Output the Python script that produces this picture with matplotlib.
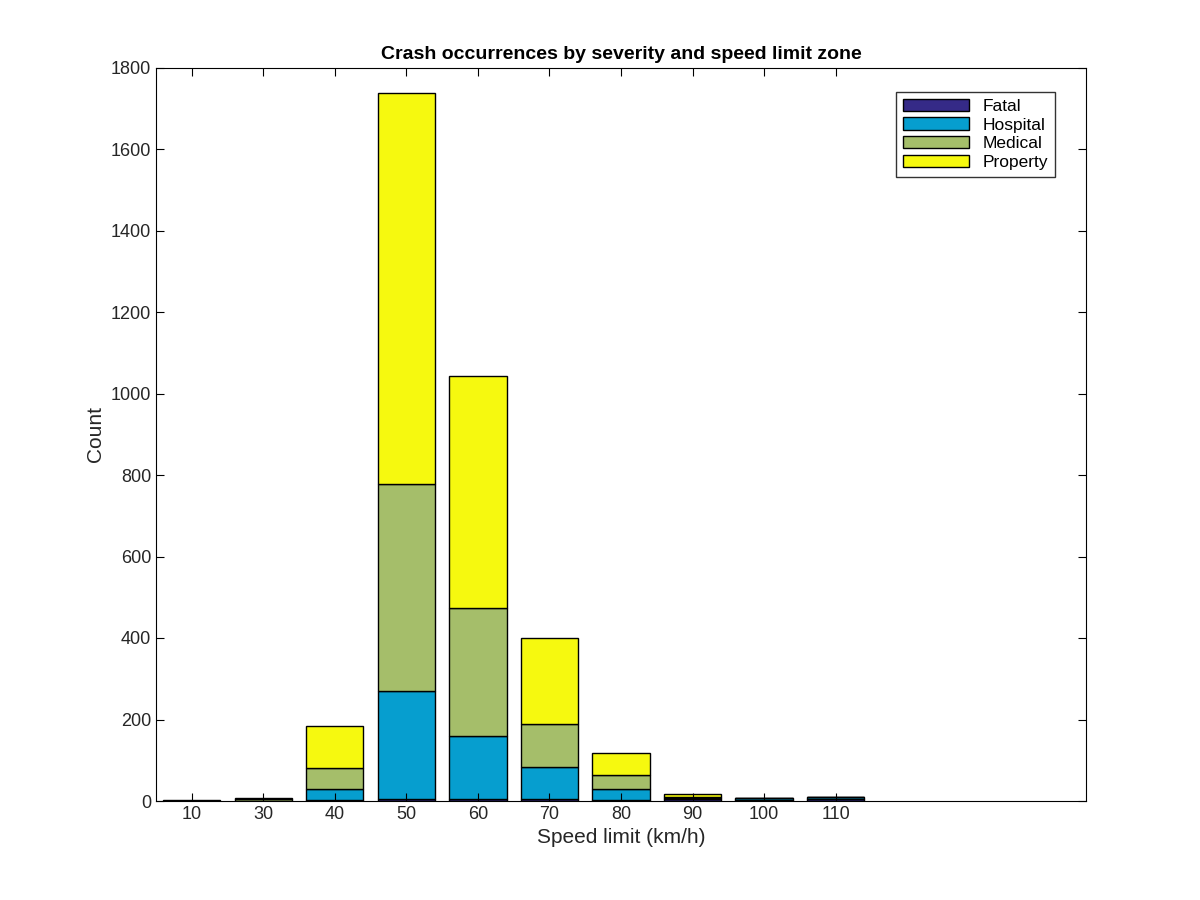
import matplotlib.pyplot as plt
import numpy as np

speed_labels = ["10", "30", "40", "50", "60", "70", "80", "90", "100", "110"]
fatal = np.array([0, 0, 2, 6, 5, 4, 3, 4, 3, 4])
hospital = np.array([1, 1, 28, 264, 155, 79, 27, 4, 4, 6])
medical = np.array([0, 5, 50, 507, 314, 107, 35, 3, 0, 1])
proper = np.array([1, 2, 105, 960, 568, 210, 53, 6, 0, 0])

series = [("Fatal", fatal, "#352a87"), ("Hospital", hospital, "#069ecf"),
          ("Medical", medical, "#a5be6a"), ("Property", proper, "#f6f90f")]

plt.rcParams['font.family'] = ['Liberation Sans', 'DejaVu Sans']
fig, ax = plt.subplots(figsize=(12, 9), dpi=100)
fig.subplots_adjust(left=0.13, right=0.905, bottom=0.11, top=0.925)

x = np.arange(1, len(speed_labels) + 1)
bottom = np.zeros(len(x))
for name, vals, col in series:
    ax.bar(x, vals, 0.8, bottom=bottom, color=col, edgecolor="black", linewidth=1, label=name)
    bottom += vals

ax.set_xlim(0.5, 13.5)
ax.set_ylim(0, 1800)
ax.set_xticks(x)
ax.set_xticklabels(speed_labels)
ax.set_yticks(np.arange(0, 1801, 200))
ax.tick_params(direction="in", top=True, right=True, labelsize=13, length=6,
               labelcolor="#262626")
ax.set_xlabel("Speed limit (km/h)", fontsize=15, color="#262626")
ax.set_ylabel("Count", fontsize=15, color="#262626")
ax.set_title("Crash occurrences by severity and speed limit zone", fontsize=14, fontweight="bold")
leg = ax.legend(loc="upper right", fontsize=12.5, fancybox=False, edgecolor="black",
                borderaxespad=1.4, handlelength=3.8, labelspacing=0.2,
                bbox_to_anchor=(0.993, 1.0))
leg.get_frame().set_linewidth(1)

fig.savefig("out.png")
